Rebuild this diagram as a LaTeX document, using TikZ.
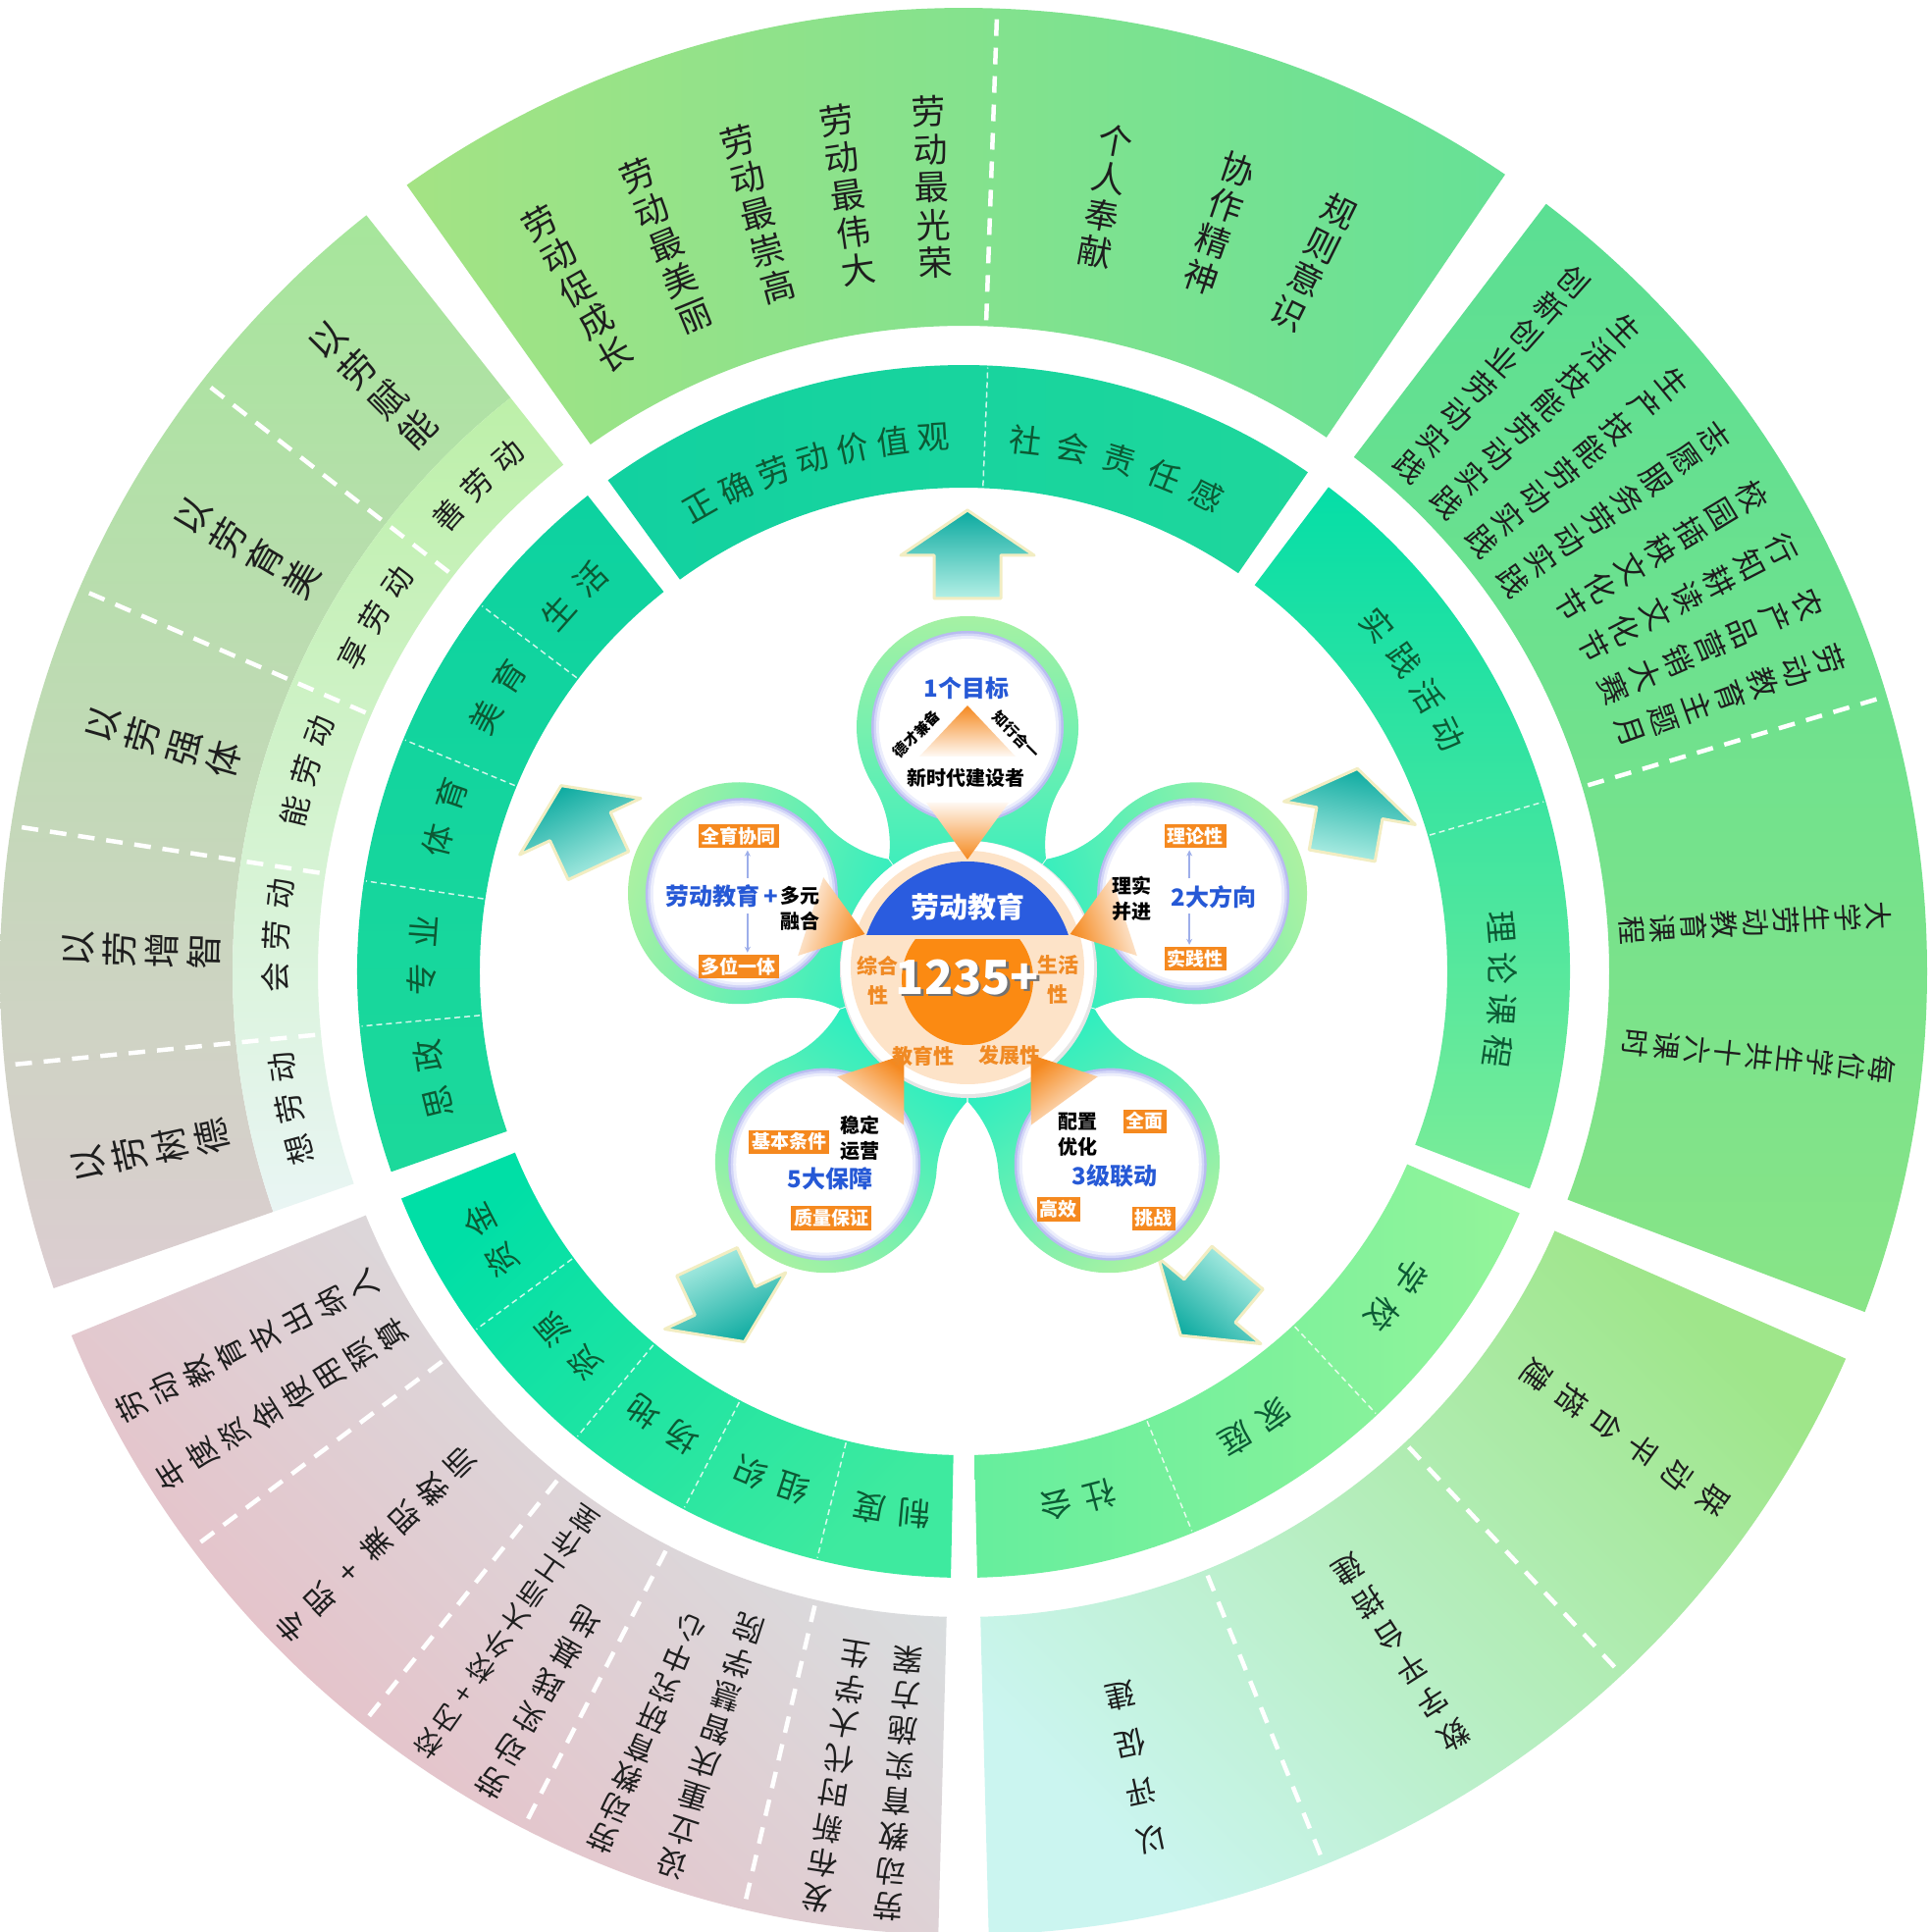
\documentclass[tikz,border=0pt]{standalone}
\usepackage{fontspec}
\newfontfamily\cjk{Noto Sans CJK SC}
\usetikzlibrary{calc,arrows.meta}
\definecolor{txtk}{HTML}{1E1E1E}
\definecolor{txtg}{HTML}{0C5A34}
\definecolor{orng}{HTML}{F5891F}
\definecolor{ortx}{HTML}{F08A24}
\definecolor{blu}{HTML}{2659D6}
\definecolor{capblue}{HTML}{2A5CDF}
\definecolor{peach}{HTML}{FDE3C8}
\definecolor{orcirc}{HTML}{FB8A12}
\definecolor{pin}{HTML}{14EDC6}
\definecolor{pout}{HTML}{ACF1A2}
\definecolor{lav1}{HTML}{B8BCF0}
\definecolor{lav2}{HTML}{D3D6F8}
\definecolor{lav3}{HTML}{ECEEFC}
\definecolor{arrA}{HTML}{0AA99F}
\definecolor{arrB}{HTML}{B4F0E6}
\definecolor{arrO}{HTML}{F2EDC2}
\definecolor{sarrow}{HTML}{9DAEEA}
\definecolor{topL}{HTML}{A4E384}
\definecolor{topR}{HTML}{66E196}
\definecolor{lfA}{HTML}{A6E69B}
\definecolor{lfB}{HTML}{C6F2EE}
\definecolor{lfC}{HTML}{DCCDD1}
\definecolor{liA}{HTML}{BDF0A9}
\definecolor{liB}{HTML}{DDF9F3}
\definecolor{liC}{HTML}{E9F5F4}
\definecolor{pkA}{HTML}{D6E3E3}
\definecolor{pkB}{HTML}{E9BBC4}
\definecolor{brA}{HTML}{9FE68A}
\definecolor{brB}{HTML}{CBF5F0}
\definecolor{rtA}{HTML}{5BDF93}
\definecolor{rtB}{HTML}{88E487}
\definecolor{gtL}{HTML}{12D1A0}
\definecolor{gtR}{HTML}{1ED79C}
\definecolor{glA}{HTML}{0DD2A0}
\definecolor{glB}{HTML}{1CD99B}
\definecolor{gbA}{HTML}{00DFA6}
\definecolor{gbB}{HTML}{3EEA9F}
\definecolor{gbrL}{HTML}{66EE9D}
\definecolor{gbrR}{HTML}{93F49A}
\definecolor{grA}{HTML}{05DEA7}
\definecolor{grB}{HTML}{7CEC98}

\def\vtext#1{\vbox{\vtextA#1\relax}}
\def\vtextA#1{\ifx\relax#1\else\hbox to 1em{\hss#1\hss}\expandafter\vtextA\fi}
\newcommand\sect[5][]{\shade[#1] (#2:#4) arc[start angle=#2,end angle=#3,radius=#4] -- (#3:#5) arc[start angle=#3,end angle=#2,radius=#5] -- cycle;}
\newcommand\vcol[4][]{\node[#1,rotate=#2-90] at (#2:#3) {\vtext{#4}};}
\newcommand\vcoltop[4][]{\node[#1,anchor=north,rotate=#2-90] at (#2:#3) {\vtext{#4}};}
\newcommand\arctxt[7]{\foreach \ch [count=\i] in {#7}{\pgfmathsetmacro\ang{#3+((#6+1)/2-\i)*#5}\node[#1,rotate=\ang-90] (#2-\i) at (\ang:#4) {\ch};}}
\newcommand\petal[1]{\shade[top color=pout, bottom color=pin, shading angle=#1-90]
 ($(D)+(#1-90:80)+(#1:111)$) .. controls ($(D)+(#1-90:76)+(#1:145)$) and ($(D)+(#1-90:87)+(#1:172)$) .. ($(D)+(#1-90:97.9)+(#1:188.5)$)
 arc[start angle=#1-120, end angle=#1+120, radius=113]
 .. controls ($(D)+(#1-90:-87)+(#1:172)$) and ($(D)+(#1-90:-76)+(#1:145)$) .. ($(D)+(#1-90:-80)+(#1:111)$) -- (D) -- cycle;}
\newcommand\pointer[1]{\shade[top color=orng!6!white, bottom color=orng, shading angle=#1-90]
 ($(D)+(#1:168)+(#1-90:42)$) -- ($(D)+(#1:168)+(#1+90:42)$) -- ($(D)+(#1:110)$) -- cycle;}
\newcommand\bigarrow[3]{\coordinate (#3) at ($(D)+(#1:420)$);
 \shade[top color=arrA, bottom color=arrB, shading angle=#2-90, draw=arrO, line width=3pt, line join=round]
 ($(#3)+(#2-90:-34)+(#2:-44)$) -- ($(#3)+(#2-90:34)+(#2:-44)$) -- ($(#3)+(#2-90:34)$) -- ($(#3)+(#2-90:68)$) -- ($(#3)+(#2:46)$) -- ($(#3)+(#2-90:-68)$) -- ($(#3)+(#2-90:-34)$) -- cycle;}

\tikzset{
 ftop/.style={font=\cjk\fontsize{35}{38.5}\selectfont, text=txtk, inner sep=0pt},
 ftr/.style={font=\cjk\fontsize{31}{36}\selectfont, text=txtk, inner sep=0pt},
 frt/.style={font=\cjk\fontsize{29}{31.5}\selectfont, text=txtk, inner sep=0pt},
 fbr1/.style={font=\cjk\fontsize{31}{44}\selectfont, text=txtk, inner sep=0pt},
 fbr2/.style={font=\cjk\fontsize{31}{40}\selectfont, text=txtk, inner sep=0pt},
 fbr3/.style={font=\cjk\fontsize{31}{50}\selectfont, text=txtk, inner sep=0pt},
 fpk/.style={font=\cjk\fontsize{31}{38}\selectfont, text=txtk, inner sep=0pt},
 fpk2/.style={font=\cjk\fontsize{31}{40}\selectfont, text=txtk, inner sep=0pt},
 fpk3/.style={font=\cjk\fontsize{28}{31}\selectfont, text=txtk, inner sep=0pt},
 fpk4/.style={font=\cjk\fontsize{30}{33}\selectfont, text=txtk, inner sep=0pt},
 fpk5/.style={font=\cjk\fontsize{31}{36}\selectfont, text=txtk, inner sep=0pt},
 flf/.style={font=\cjk\fontsize{37}{43}\selectfont, text=txtk, inner sep=0pt},
 fsub/.style={font=\cjk\fontsize{31}{31}\selectfont, text=txtk, inner sep=0pt},
 fgr/.style={font=\cjk\fontsize{33}{33}\selectfont, text=txtg, inner sep=0pt},
 odash/.style={draw=white, line width=4.5pt, dash pattern=on 17pt off 12pt},
 gdash/.style={draw=white, opacity=0.8, line width=1.5pt, dash pattern=on 6pt off 4pt},
 obox/.style={fill=orng, text=white, font=\cjk\bfseries\fontsize{19}{19}\selectfont, inner sep=3pt},
 btxt/.style={text=blu, font=\cjk\bfseries\fontsize{24}{24}\selectfont, inner sep=0pt},
 ktxt/.style={text=black, font=\cjk\bfseries\fontsize{20}{26}\selectfont, inner sep=0pt, align=center},
 stxt/.style={text=black, font=\cjk\bfseries\fontsize{15}{15}\selectfont, inner sep=0pt},
 ortxt/.style={text=ortx, font=\cjk\bfseries\fontsize{21}{30}\selectfont, inner sep=0pt, align=center},
 sar/.style={-{Stealth[length=6pt,width=6pt]}, line width=1.4pt, draw=sarrow},
}

\begin{document}
\begin{tikzpicture}[x=1pt,y=1pt]
\useasboundingbox (-982,-979) rectangle (986,990);
\fill[white] (-982,-979) rectangle (986,990);

% ---------- outer ring ----------
\sect[left color=topL, right color=topR]{55.8}{125.3}{658}{982}
\sect[top color=lfA, middle color=lfB, bottom color=lfC]{128.3}{199.2}{745}{982}
\sect[top color=liA, middle color=liB, bottom color=liC]{128.3}{199.2}{658}{745}
\sect[top color=pkA, bottom color=pkB, shading angle=-45]{202.2}{268.5}{658}{982}
\sect[top color=brA, bottom color=brB, shading angle=-45]{271.5}{336.3}{658}{982}
\sect[top color=rtA, bottom color=rtB]{339.3}{412.8}{658}{982}
\foreach \a in {88,16.6,-46.9,-68,216.8,231.4,242.8,256.8,142.2,156.6,171.3,185.6}
  \draw[odash] (\a:664) -- (\a:978);

% ---------- green ring ----------
\sect[left color=gtL, right color=gtR]{55.4}{125.9}{493}{618}
\sect[top color=glA, bottom color=glB]{128.3}{199.3}{493}{618}
\sect[top color=gbA, bottom color=gbB, shading angle=45]{202}{268.8}{493}{618}
\sect[left color=gbrL, right color=gbrR]{271.3}{336.5}{493}{618}
\sect[top color=grA, bottom color=grB]{339}{413}{493}{618}
\foreach \a in {87.7,16.3,-47,-67.8,216.3,230.3,242.5,256,142.8,157.5,171.4,185.2}
  \draw[gdash] (\a:495) -- (\a:616);

% ---------- outer texts ----------
\vcol[ftop,name=t1]{119.5}{800}{劳动促成长}
\vcol[ftop,name=t2]{112.3}{800}{劳动最美丽}
\vcol[ftop,name=t3]{105.2}{800}{劳动最崇高}
\vcol[ftop,name=t4]{98.5}{800}{劳动最伟大}
\vcol[ftop,name=t5]{92.3}{800}{劳动最光荣}
\vcol[ftop,name=t6]{79.6}{803}{个人奉献}
\vcol[ftop,name=t7]{71.1}{806}{协作精神}
\vcol[ftop,name=t8]{63.7}{806}{规则意识}

\vcoltop[ftr,name=r1]{48.5}{953}{创新创业劳动实践}
\vcoltop[ftr,name=r2]{44.1}{953}{生活技能劳动实践}
\vcoltop[ftr,name=r3]{39.7}{953}{生产技能劳动实践}
\vcoltop[ftr,name=r4]{35.4}{953}{志愿服务劳动实践}
\vcoltop[ftr,name=r5]{31.1}{953}{校园插秧文化节}
\vcoltop[ftr,name=r6]{27.3}{953}{行知耕读文化节}
\vcoltop[ftr,name=r7]{23.5}{953}{农产品营销大赛}
\vcoltop[ftr,name=r8]{19.8}{953}{劳动教育主题月}
\vcoltop[frt,name=r9]{3.5}{948}{大学生劳动教育课程}
\vcoltop[frt,name=r10]{-6.1}{955}{每位学生共十六课时}

\vcol[fbr1,name=b1]{-35.2}{825}{联动平台搭建}
\vcol[fbr2,name=b2]{-57.3}{825}{数字平台搭建}
\vcol[fbr3,name=b3]{-77.8}{830}{以评促建}

\vcoltop[fpk,name=p1]{207.6}{971}{劳动教育支出纳入}
\vcoltop[fpk,name=p2]{212.4}{971}{年度资金使用预算}
\vcoltop[fpk2,name=p3]{224.3}{971}{专职+兼职教师}
\vcoltop[fpk3,name=p4]{235.3}{971}{校内+校外大师工作室}
\vcoltop[fpk,name=p5]{239.8}{971}{劳动实践基地}
\vcoltop[fpk4,name=p6]{247.4}{971}{劳动教育研究中心}
\vcoltop[fpk5,name=p7]{251.9}{971}{设立重庆智慧学院}
\vcoltop[fpk5,name=p8]{261.0}{971}{发布新时代大学生}
\vcoltop[fpk5,name=p9]{265.4}{971}{劳动教育实施方案}

\vcol[flf,name=l1]{135.2}{848}{以劳赋能}
\vcol[flf,name=l2]{149.4}{848}{以劳育美}
\vcol[flf,name=l3]{164}{848}{以劳强体}
\vcol[flf,name=l4]{178.5}{838}{以劳增智}
\vcol[flf,name=l5]{192.4}{848}{以劳树德}

\arctxt{fsub}{s1}{135}{701}{3.5}{3}{善,劳,动}
\arctxt{fsub}{s2}{149}{701}{3.5}{3}{享,劳,动}
\arctxt{fsub}{s3}{163}{701}{3.5}{3}{能,劳,动}
\arctxt{fsub}{s4}{177}{701}{3.5}{3}{会,劳,动}
\arctxt{fsub}{s5}{191.5}{701}{3.5}{3}{想,劳,动}

% ---------- green ring texts ----------
\arctxt{fgr}{g1}{106.4}{545}{4.4}{7}{正,确,劳,动,价,值,观}
\arctxt{fgr}{g2}{73.1}{545}{5.1}{5}{社,会,责,任,感}
\arctxt{fgr}{g3}{33}{550}{4.6}{4}{实,践,活,动}
\arctxt{fgr}{g4}{-1.9}{550}{4.4}{4}{理,论,课,程}
\arctxt{fgr}{g5}{-36.8}{552}{5}{2}{学,校}
\arctxt{fgr}{g6}{-57.4}{552}{4.8}{2}{家,庭}
\arctxt{fgr}{g7}{-77.8}{552}{4.8}{2}{社,会}
\arctxt{fgr}{g8}{209.6}{555}{4.8}{2}{资,金}
\arctxt{fgr}{g9}{223.5}{555}{4.8}{2}{资,源}
\arctxt{fgr}{g10}{236.4}{555}{4.8}{2}{场,地}
\arctxt{fgr}{g11}{249.3}{555}{4.8}{2}{组,织}
\arctxt{fgr}{g12}{262.4}{555}{4.8}{2}{制,度}
\arctxt{fgr}{g13}{136}{552}{5}{2}{生,活}
\arctxt{fgr}{g14}{149.5}{552}{5}{2}{美,育}
\arctxt{fgr}{g15}{163.5}{552}{5}{2}{体,育}
\arctxt{fgr}{g16}{178.3}{552}{5}{2}{专,业}
\arctxt{fgr}{g17}{191.5}{552}{5}{2}{思,政}

% ---------- big arrows ----------
\coordinate (D) at (4,4);
\bigarrow{90}{90}{A1}
\bigarrow{160}{115}{A2}
\bigarrow{22}{80}{A3}
\bigarrow{234}{-65}{A4}
\bigarrow{306}{-130}{A5}

% ---------- flower ----------
\coordinate (P1) at ($(D)+(90:245)$);
\coordinate (P2) at ($(D)+(162:242)$);
\coordinate (P3) at ($(D)+(18:242)$);
\coordinate (P4) at ($(D)+(234:248)$);
\coordinate (P5) at ($(D)+(306:248)$);
\foreach \a in {90,162,18,234,306} {\petal{\a}}
\foreach \p in {P1,P2,P3,P4,P5} {
  \fill[lav1] (\p) circle (98);
  \fill[lav2] (\p) circle (95.5);
  \fill[lav3] (\p) circle (93);
  \fill[white] (\p) circle (90);
}
% central disk
\fill[black!10] ($(D)+(1,-2)$) circle (131);
\fill[white] (D) circle (129);
\fill[peach] (D) circle (119);
\begin{scope}
  \clip ($(D)+(-130,33)$) rectangle ($(D)+(130,130)$);
  \fill[capblue] (D) circle (108);
\end{scope}
\begin{scope}
  \clip ($(D)+(-130,-130)$) rectangle ($(D)+(130,28)$);
  \fill[orcirc] ($(D)+(0,-12)$) circle (67);
\end{scope}
\foreach \a in {90,162,18,234,306} {\pointer{\a}}

% top petal triangle
\shade[top color=orng, bottom color=orng!5!white] ($(P1)+(0,22)$) -- ($(P1)+(49,-30)$) -- ($(P1)+(-49,-30)$) -- cycle;

% centre texts
\node[text=white, font=\cjk\bfseries\fontsize{29}{29}\selectfont, inner sep=0pt] (cap) at ($(D)+(0,62)$) {劳动教育};
\node[text=black!55, font=\cjk\bfseries\fontsize{48}{48}\selectfont, inner sep=0pt] (numsh) at ($(D)+(2.5,-12.5)$) {1235+};
\node[text=white, font=\cjk\bfseries\fontsize{48}{48}\selectfont, inner sep=0pt] (num) at ($(D)+(0,-10)$) {1235+};
\node[ortxt] (c1) at ($(D)+(-91,-13)$) {综合\\性};
\node[ortxt] (c2) at ($(D)+(92,-13)$) {生活\\性};
\node[ortxt] (c3) at ($(D)+(-45,-90)$) {教育性};
\node[ortxt] (c4) at ($(D)+(43,-90)$) {发展性};

% petal 1 (top)
\node[btxt] (q1a) at ($(P1)+(-1,40)$) {1个目标};
\node[stxt, rotate=45] (q1b) at ($(P1)+(-52,-7)$) {德才兼备};
\node[stxt, rotate=-45] (q1c) at ($(P1)+(50,-8)$) {知行合一};
\node[ktxt, font=\cjk\bfseries\fontsize{20}{20}\selectfont] (q1d) at ($(P1)+(-2,-52)$) {新时代建设者};

% petal 2 (left)
\node[obox] (q2a) at ($(P2)+(-3,59)$) {全育协同};
\node[btxt] (q2b) at ($(P2)+(-29,-2)$) {劳动教育};
\node[btxt] (q2c) at ($(P2)+(30,-3)$) {+};
\node[ktxt] (q2d) at ($(P2)+(60,-15)$) {多元\\融合};
\node[obox] (q2e) at ($(P2)+(-3,-74)$) {多位一体};
\draw[sar] ($(P2)+(6,16)$) -- ($(q2a.south)+(9,-2)$);
\draw[sar] ($(P2)+(6,-20)$) -- ($(q2e.north)+(9,2)$);

% petal 3 (right)
\node[obox] (q3a) at ($(P3)+(2,59)$) {理论性};
\node[ktxt] (q3b) at ($(P3)+(-63,-5)$) {理实\\并进};
\node[btxt] (q3c) at ($(P3)+(21,-3)$) {2大方向};
\node[obox] (q3d) at ($(P3)+(2,-66)$) {实践性};
\draw[sar] ($(P3)+(-4,16)$) -- ($(q3a.south)+(-6,-2)$);
\draw[sar] ($(P3)+(-4,-20)$) -- ($(q3d.north)+(-6,2)$);

% petal 4 (bottom left)
\node[ktxt] (q4a) at ($(P4)+(36,27)$) {稳定\\运营};
\node[obox] (q4b) at ($(P4)+(-36,23)$) {基本条件};
\node[btxt] (q4c) at ($(P4)+(6,-15)$) {5大保障};
\node[obox] (q4d) at ($(P4)+(7,-55)$) {质量保证};

% petal 5 (bottom right)
\node[ktxt] (q5a) at ($(P5)+(-33,30)$) {配置\\优化};
\node[obox] (q5b) at ($(P5)+(35,44)$) {全面};
\node[btxt] (q5c) at ($(P5)+(4,-12)$) {3级联动};
\node[obox] (q5d) at ($(P5)+(-53,-46)$) {高效};
\node[obox] (q5e) at ($(P5)+(44,-55)$) {挑战};
\end{tikzpicture}
\end{document}
